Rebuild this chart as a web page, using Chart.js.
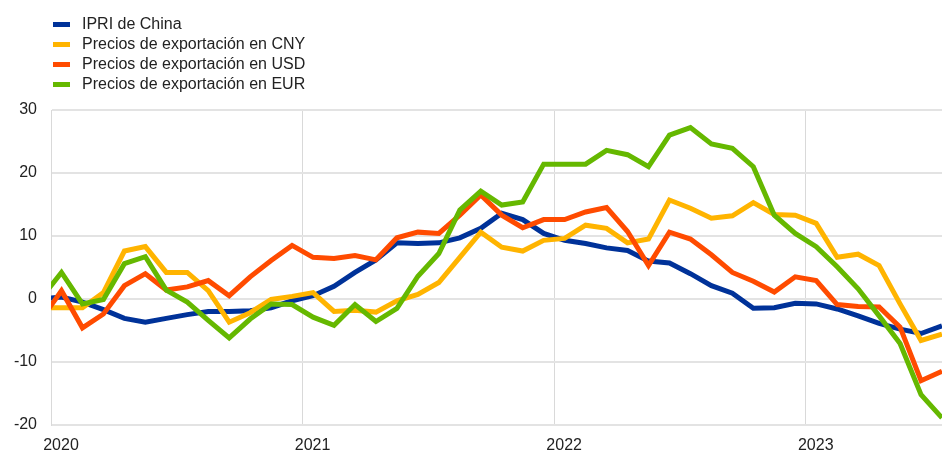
<!DOCTYPE html>
<html>
<head>
<meta charset="utf-8">
<script src="https://cdn.jsdelivr.net/npm/chart.js@4.4.1/dist/chart.umd.min.js"></script>
<style>
    html, body { margin: 0; padding: 0; background: #fff; overflow: hidden; }
    #wrap { position: absolute; left: 0; top: 0; width: 942px; height: 466px; }
    #leyenda { position: absolute; left: 53px; top: 14px; font: 16px 'Liberation Sans', Arial, sans-serif; color: #222; }
    .item { height: 20px; display: flex; align-items: center; white-space: nowrap; }
    .caja { width: 17px; height: 5px; margin-right: 12px; }
</style>
</head>
<body>
<div id="wrap">
    <canvas id="grafico" width="942" height="466"></canvas>
    <div id="leyenda"></div>
</div>
<script>
// meses: dic 2019 ... jul 2023 (44 puntos), tasas de variación interanual (%)
var anios = ['2020', '2021', '2022', '2023'];

var ipri = [0.0, 0.3, -0.5, -1.7, -3.1, -3.7, -3.1, -2.5, -2.0, -2.0, -1.9, -1.4, -0.3,
            0.5, 2.0, 4.2, 6.2, 8.9, 8.8, 8.9, 9.7, 11.2, 13.6, 12.6, 10.4,
            9.3, 8.8, 8.1, 7.7, 6.0, 5.7, 4.0, 2.1, 0.9, -1.5, -1.4, -0.7,
            -0.8, -1.6, -2.7, -3.9, -4.8, -5.5, -4.3];

var expCny = [-1.4, -1.4, -1.4, 1.0, 7.6, 8.3, 4.2, 4.2, 1.3, -3.7, -2.2, -0.1, 0.4,
              1.0, -2.0, -1.8, -2.1, -0.3, 0.7, 2.6, 6.6, 10.6, 8.2, 7.6, 9.3,
              9.6, 11.7, 11.2, 8.9, 9.5, 15.7, 14.4, 12.8, 13.2, 15.3, 13.4, 13.3,
              12.0, 6.6, 7.1, 5.3, -0.8, -6.6, -5.6];

var expUsd = [-3.4, 1.3, -4.6, -2.4, 2.1, 4.0, 1.4, 1.9, 2.9, 0.5, 3.5, 6.1, 8.5,
              6.6, 6.4, 6.9, 6.2, 9.7, 10.6, 10.4, 13.3, 16.5, 13.3, 11.3, 12.6,
              12.6, 13.8, 14.5, 10.7, 5.3, 10.6, 9.5, 7.0, 4.2, 2.8, 1.1, 3.5,
              2.9, -0.9, -1.2, -1.3, -4.5, -13.0, -11.5];

var expEur = [0.0, 4.2, -0.8, -0.1, 5.6, 6.7, 1.4, -0.5, -3.4, -6.2, -3.2, -0.8, -0.9,
              -2.9, -4.2, -0.9, -3.6, -1.5, 3.6, 7.2, 14.1, 17.1, 14.9, 15.4, 21.4,
              21.4, 21.4, 23.6, 22.9, 21.0, 26.0, 27.2, 24.6, 23.9, 21.0, 13.3, 10.4,
              8.3, 5.1, 1.6, -2.7, -7.1, -15.2, -18.9];

var nombres = ['IPRI de China', 'Precios de exportación en CNY', 'Precios de exportación en USD', 'Precios de exportación en EUR'];
var colores = ['#003299', '#FFB400', '#FF4B00', '#65B800'];

// cada dato a mitad de mes; x = 0 es enero de 2020
function puntos(serie) {
    return serie.map(function(v, i) { return { x: i - 0.5, y: v }; });
}

var series = [ipri, expCny, expUsd, expEur];
var datasets = series.map(function(s, i) {
    return {
        label: nombres[i],
        data: puntos(s),
        borderColor: colores[i],
        backgroundColor: colores[i],
        borderWidth: 5,
        pointRadius: 0,
        tension: 0,
        order: 4 - i
    };
});

var fuente = { family: "'Liberation Sans', Arial, sans-serif", size: 16 };

var chart = new Chart(document.getElementById('grafico'), {
    type: 'line',
    data: { datasets: datasets },
    options: {
        responsive: false,
        animation: false,
        devicePixelRatio: 1,
        layout: { padding: { top: 110, left: 0, right: 0, bottom: 0 } },
        plugins: {
            legend: { display: false },
            tooltip: { enabled: false }
        },
        scales: {
            x: {
                type: 'linear',
                min: 0,
                max: 42.5,
                afterBuildTicks: function(scale) {
                    scale.ticks = anios.map(function(a, i) { return { value: i * 12 }; });
                },
                grid: { color: '#d9d9d9', lineWidth: 1, drawTicks: false },
                border: { display: false },
                ticks: {
                    color: '#222',
                    font: fuente,
                    padding: 11,
                    labelOffset: 10,
                    maxRotation: 0,
                    callback: function(value, index) { return anios[index]; }
                }
            },
            y: {
                min: -20,
                max: 30,
                afterFit: function(scale) { scale.width = 51; },
                grid: { color: '#e3e3e3', lineWidth: 2, drawTicks: false },
                border: { display: true, color: '#d9d9d9', width: 1 },
                ticks: {
                    stepSize: 10,
                    color: '#222',
                    font: fuente,
                    padding: 14
                }
            }
        }
    }
});

// leyenda en HTML, una serie por línea
var leyenda = document.getElementById('leyenda');
chart.data.datasets.forEach(function(ds) {
    var fila = document.createElement('div');
    fila.className = 'item';
    var caja = document.createElement('span');
    caja.className = 'caja';
    caja.style.background = ds.borderColor;
    var texto = document.createElement('span');
    texto.textContent = ds.label;
    fila.appendChild(caja);
    fila.appendChild(texto);
    leyenda.appendChild(fila);
});
</script>
</body>
</html>
